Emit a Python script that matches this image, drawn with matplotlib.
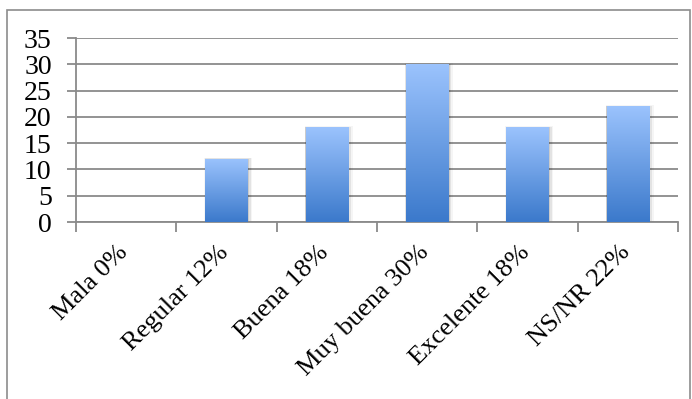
import numpy as np
import matplotlib
matplotlib.use("Agg")
import matplotlib.pyplot as plt
import matplotlib.transforms as mtrans
from matplotlib.patches import Rectangle
from matplotlib.colors import LinearSegmentedColormap

categorias = ["Mala 0%", "Regular 12%", "Buena 18%", "Muy buena 30%", "Excelente 18%", "NS/NR 22%"]
valores = [0, 12, 18, 30, 18, 22]
yticks = [0, 5, 10, 15, 20, 25, 30, 35]

plt.rcParams['font.family'] = ['Liberation Serif', 'DejaVu Serif']

fig = plt.figure(figsize=(6.92, 3.99), dpi=100)
# marco exterior del grafico
fig.patches.append(Rectangle((7 / 692, -0.01), 683 / 692, 1 - 10 / 399 + 0.01,
                             transform=fig.transFigure, fill=False,
                             edgecolor="#8c8c8c", linewidth=1.2))

ax = fig.add_axes([76 / 692, 1 - 222 / 399, (678 - 76) / 692, (222 - 38) / 399])
gris = "#8a8a8a"

ax.set_xlim(-0.5, len(categorias) - 0.5)
ax.set_ylim(0, 35)
ax.set_yticks(yticks)
ax.yaxis.grid(True, color=gris, linewidth=1.3)
ax.set_axisbelow(True)
for s in ["top", "right"]:
    ax.spines[s].set_visible(False)
for s in ["left", "bottom"]:
    ax.spines[s].set_color(gris)
    ax.spines[s].set_linewidth(1.3)
ax.tick_params(axis="y", length=6.5, width=1.3, color=gris, labelsize=20, pad=11)

# etiquetas centradas en las barras, marcas entre categorias
ax.set_xticks(np.arange(len(categorias)))
ax.set_xticklabels(categorias, rotation=45, ha="right", va="top",
                   rotation_mode="anchor", fontsize=19)
ax.tick_params(axis="x", which="major", length=0, pad=14)
desplaza = mtrans.ScaledTranslation(-9 / 100, 0, fig.dpi_scale_trans)
for lab in ax.get_xticklabels():
    lab.set_transform(lab.get_transform() + desplaza)
ax.set_xticks(np.arange(len(categorias) + 1) - 0.5, minor=True)
ax.tick_params(axis="x", which="minor", length=7, width=1.3, color=gris)

cmap = LinearSegmentedColormap.from_list("azul", ["#3b79cb", "#9bc3fd"])
grad = np.linspace(0, 1, 256).reshape(-1, 1)
ancho = 0.42
for i, v in enumerate(valores):
    if v <= 0:
        continue
    x0 = i - ancho / 2
    # sombra
    for k, a in enumerate([0.10, 0.07, 0.04]):
        d = 0.012 * (k + 1)
        ax.add_patch(Rectangle((x0 - d * 0.3, -0.2), ancho + d * 1.6, v + 0.15 + d * 8,
                               facecolor="#000000", alpha=a, linewidth=0, zorder=2))
    im = ax.imshow(grad, extent=(x0, x0 + ancho, 0, v), origin="lower",
                   cmap=cmap, aspect="auto", zorder=3)
    rect = Rectangle((x0, 0), ancho, v, transform=ax.transData)
    im.set_clip_path(rect)

ax.set_xlim(-0.5, len(categorias) - 0.5)
ax.set_ylim(0, 35)

fig.savefig("out.png", dpi=100)
